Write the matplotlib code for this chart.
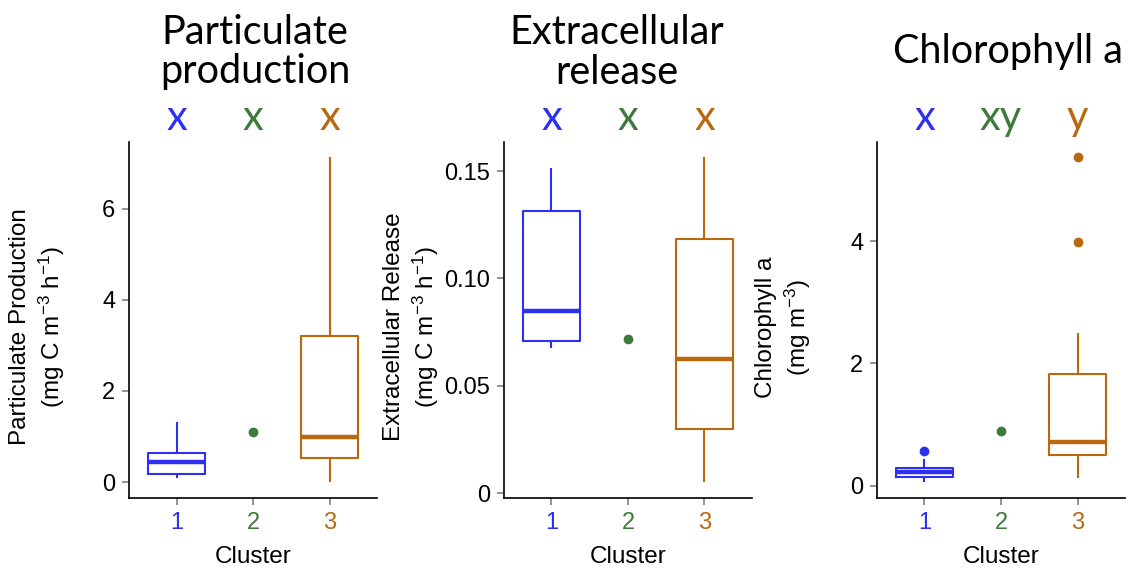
import matplotlib.pyplot as plt
from matplotlib import transforms

plt.rcParams['font.family'] = ['Liberation Sans', 'DejaVu Sans']
plt.rcParams['mathtext.fontset'] = 'custom'
plt.rcParams['mathtext.rm'] = 'Liberation Sans'
plt.rcParams['mathtext.default'] = 'regular'

clusters = [1, 2, 3]
cluster_colors = ['#2f2ff2', '#3e7a3a', '#b9680e']

titles = ['Particulate\nproduction', 'Extracellular\nrelease', 'Chlorophyll a']
ylabels = ['Particulate Production\n(mg C m$^{-3}$ h$^{-1}$)',
           'Extracellular Release\n(mg C m$^{-3}$ h$^{-1}$)',
           'Chlorophyll a\n(mg m$^{-3}$)']
letters = [['x', 'x', 'x'], ['x', 'x', 'x'], ['x', 'xy', 'y']]

# box stats: whislo, q1, median, q3, whishi (clusters 1 and 3); cluster 2 is a single sample
part_c1 = [0.11, 0.18, 0.44, 0.64, 1.30]
part_c2 = 1.10
part_c3 = [0.03, 0.53, 0.99, 3.21, 7.12]
part_out = [[], []]

extra_c1 = [0.068, 0.0708, 0.0848, 0.1314, 0.151]
extra_c2 = 0.0718
extra_c3 = [0.0056, 0.0298, 0.0624, 0.1184, 0.156]
extra_out = [[], []]

chla_c1 = [0.08, 0.15, 0.23, 0.29, 0.42]
chla_c2 = 0.90
chla_c3 = [0.15, 0.51, 0.72, 1.83, 2.48]
chla_out = [[0.56], [3.99, 5.38]]

yticks = [[0, 2, 4, 6], [0, 0.05, 0.10, 0.15], [0, 2, 4]]
yticklabels = [['0', '2', '4', '6'], ['0', '0.05', '0.10', '0.15'], ['0', '2', '4']]
ylims = [(-0.35, 7.47), (-0.0023, 0.1636), (-0.2, 5.62)]

panels = [(part_c1, part_c2, part_c3, part_out),
          (extra_c1, extra_c2, extra_c3, extra_out),
          (chla_c1, chla_c2, chla_c3, chla_out)]

fig = plt.figure(figsize=(11.34, 5.77), dpi=100)
lefts = [0.1138, 0.4444, 0.7734]
title_x = [255, 617, 1008]
ylabel_x = [38, 412, 784]

for i, (c1, c2, c3, outs) in enumerate(panels):
    ax = fig.add_axes([lefts[i], 0.137, 0.2187, 0.617])
    stats = []
    for s, fl in zip([c1, c3], outs):
        stats.append(dict(whislo=s[0], q1=s[1], med=s[2], q3=s[3], whishi=s[4], fliers=fl))
    res = ax.bxp(stats, positions=[1, 3], widths=0.75, showcaps=False,
                 boxprops=dict(linewidth=1.5),
                 whiskerprops=dict(linewidth=1.5),
                 medianprops=dict(linewidth=3.2, solid_capstyle='butt'),
                 flierprops=dict(marker='o', markersize=6))
    for j, col in enumerate([cluster_colors[0], cluster_colors[2]]):
        res['boxes'][j].set_color(col)
        res['medians'][j].set_color(col)
        res['whiskers'][2 * j].set_color(col)
        res['whiskers'][2 * j + 1].set_color(col)
        res['fliers'][j].set_markerfacecolor(col)
        res['fliers'][j].set_markeredgecolor(col)
    ax.plot([2], [c2], 'o', color=cluster_colors[1], markersize=6)

    ax.set_xlim(0.38, 3.62)
    ax.set_ylim(*ylims[i])
    ax.set_xticks(clusters)
    ax.set_xticklabels([str(c) for c in clusters], fontsize=17)
    for lab, col in zip(ax.get_xticklabels(), cluster_colors):
        lab.set_color(col)
    ax.set_yticks(yticks[i])
    ax.set_yticklabels(yticklabels[i], fontsize=17)
    ax.tick_params(color='#808080', length=5, width=1.2, pad=5)
    for sp in ['top', 'right']:
        ax.spines[sp].set_visible(False)
    for sp in ['left', 'bottom']:
        ax.spines[sp].set_linewidth(1.2)
    ax.set_xlabel('Cluster', fontsize=17.5, labelpad=9)

    fig.text(ylabel_x[i] / 1134, 1 - 327 / 577, ylabels[i], rotation=90,
             ha='center', va='center', fontsize=17.5, linespacing=1.25,
             multialignment='center')
    fig.text(title_x[i] / 1134, 1 - 52 / 577, titles[i], family='Lato',
             fontsize=28.5, ha='center', va='center', linespacing=1.1)
    tr = transforms.blended_transform_factory(ax.transData, fig.transFigure)
    for c, let, col in zip(clusters, letters[i], cluster_colors):
        ax.text(c, 1 - 130 / 577, let, transform=tr, family='Lato', fontsize=30,
                color=col, ha='center', va='baseline')

fig.savefig('out.png', dpi=100)
